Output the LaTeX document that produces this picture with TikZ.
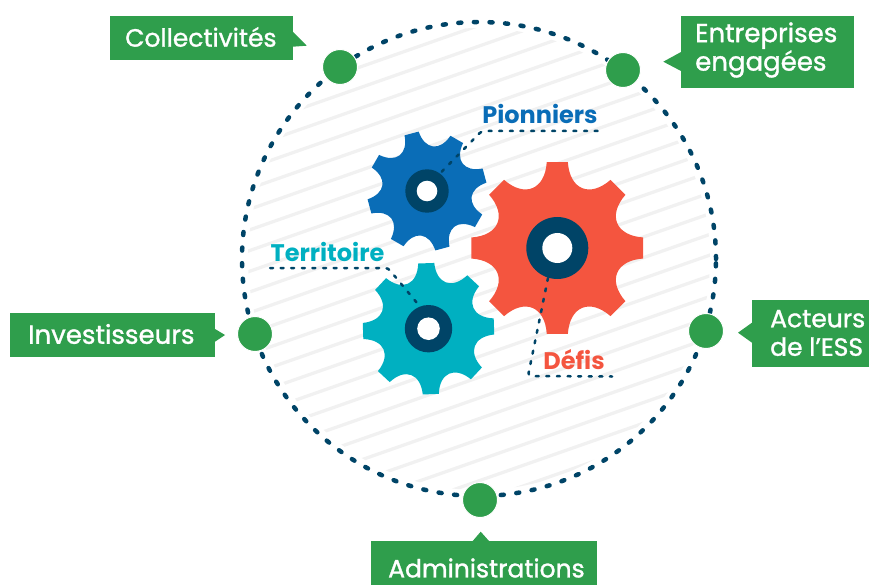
\documentclass[tikz,border=0pt]{standalone}
\usepackage{fontspec}
\setmainfont{Poppins}
\newfontfamily\calloutfont[FakeBold=1.2]{Poppins}
\usetikzlibrary{positioning}

\definecolor{ringdark}{HTML}{004467}
\definecolor{dotgreen}{HTML}{2F9E4C}
\definecolor{gearblue}{HTML}{0A6DB7}
\definecolor{gearred}{HTML}{F4553F}
\definecolor{gearteal}{HTML}{00B0C1}
\definecolor{stripegray}{HTML}{F1F1F1}

\tikzset{
  calloutbox/.style={fill=dotgreen, inner sep=0pt, anchor=north west},
  callouttext/.style={text=white, inner sep=0pt, anchor=west, align=left, font=\calloutfont\fontsize{25}{28.5}\selectfont},
  bigtext/.style={font=\calloutfont\fontsize{26}{28.5}\selectfont},
  gearlabel/.style={inner sep=0pt, font=\fontsize{24}{28}\selectfont\bfseries},
  greendot/.style={circle, fill=dotgreen, draw=white, line width=1pt, minimum size=35pt, inner sep=0pt},
  leader/.style={ringdark, line width=2.5pt, line cap=round, dash pattern=on 3pt off 7.6pt, rounded corners=3pt}
}

% cx, cy, outer radius, rotation, colour, hub radius, hole radius
\newcommand{\gearwheel}[7]{
  \begin{scope}[shift={(#1,#2)}, x=1pt, y=1pt]
    \fill[#5] ({#4-7}:#3) \foreach \a in {0,45,...,315} {
      -- ({#4+\a-7}:#3) -- ({#4+\a+7}:#3)
      .. controls ({#4+\a+12}:{0.69*#3}) and ({#4+\a+33}:{0.69*#3}) .. ({#4+\a+38}:#3)
    } -- cycle;
    \fill[ringdark] (0,0) circle (#6);
    \fill[white] (0,0) circle (#7);
  \end{scope}
}

\begin{document}
\begin{tikzpicture}[x=1pt, y=-1pt]

  \useasboundingbox (0,0) rectangle (869,585);

  \def\ringx{479}
  \def\ringy{259}
  \def\ringr{237}

  % stripes
  \begin{scope}
    \clip (\ringx,\ringy) circle (231pt);
    \foreach \s in {-15,...,15} {
      \draw[stripegray, line width=3.3pt] (200,{315.2+\s*20.7+97.65}) -- (760,{315.2+\s*20.7-98.35});
    }
  \end{scope}

  \draw[ringdark, line width=4.5pt, line cap=round, dash pattern=on 3pt off 12.6pt] (\ringx,\ringy) circle (\ringr pt);

  % gears
  \gearwheel{557.3}{248}{86.5}{0}{gearred}{31}{15}
  \gearwheel{427}{191}{60}{15}{gearblue}{21.7}{10.3}
  \gearwheel{428.5}{328.7}{66}{2}{gearteal}{23.7}{11.3}

  % leaders
  \coordinate (pionA) at (441.7,171.7);
  \coordinate (pionB) at (481.7,131);
  \coordinate (pionC) at (598,131);
  \coordinate (terrA) at (270,268);
  \coordinate (terrB) at (388,268);
  \coordinate (terrC) at (417,303);
  \coordinate (defiA) at (548,278);
  \coordinate (defiB) at (528,376);
  \coordinate (defiC) at (612,376.5);

  \draw[leader] (pionA) -- (pionB) -- (pionC);
  \draw[leader] (terrA) -- (terrB) -- (terrC);
  \draw[leader] (defiA) -- (defiB) -- (defiC);

  \node[gearlabel, text=gearblue] (pionniers) at (540,114) {Pionniers};
  \node[gearlabel, text=gearteal] (territoire) at (327.5,252) {Territoire};
  \node[gearlabel, text=gearred] (defis) at (574,360) {Défis};

  % green dots
  \node[greendot] (dotcoll) at (340,67) {};
  \node[greendot] (dotentr) at (623,70) {};
  \node[greendot] (dotinve) at (255,334) {};
  \node[greendot] (dotacte) at (706,331) {};
  \node[greendot] (dotadmi) at (480,500) {};

  % callouts
  \node[calloutbox, minimum width=183pt, minimum height=44pt] (boxcoll) at (110,16) {};
  \node[calloutbox, minimum width=173pt, minimum height=72pt] (boxentr) at (681,16) {};
  \node[calloutbox, minimum width=205pt, minimum height=44pt] (boxinve) at (10,313) {};
  \node[calloutbox, minimum width=117pt, minimum height=67pt] (boxacte) at (752,300) {};
  \node[calloutbox, minimum width=226pt, minimum height=44pt] (boxadmi) at (371,541) {};

  \fill[dotgreen] (293,32) -- (306.7,45.7) -- (293,46.7) -- cycle;
  \fill[dotgreen] (681,52) -- (663.3,61.7) -- (681,71) -- cycle;
  \fill[dotgreen] (215,329) -- (225,335) -- (215,341.7) -- cycle;
  \fill[dotgreen] (752,322.7) -- (738,332.7) -- (752,342.7) -- cycle;
  \fill[dotgreen] (472.7,541) -- (480.7,531.7) -- (489,541) -- cycle;

  \node[callouttext] (txtcoll) at (125,37) {Collectivités};
  \node[callouttext, bigtext] (txtentr) at (695,50) {Entreprises\\engagées};
  \node[callouttext, bigtext] (txtinve) at (28,334) {Investisseurs};
  \node[callouttext] (txtacte) at (770,333) {Acteurs\\de l’ESS};
  \node[callouttext] (txtadmi) at (388,568) {Administrations};

\end{tikzpicture}
\end{document}
